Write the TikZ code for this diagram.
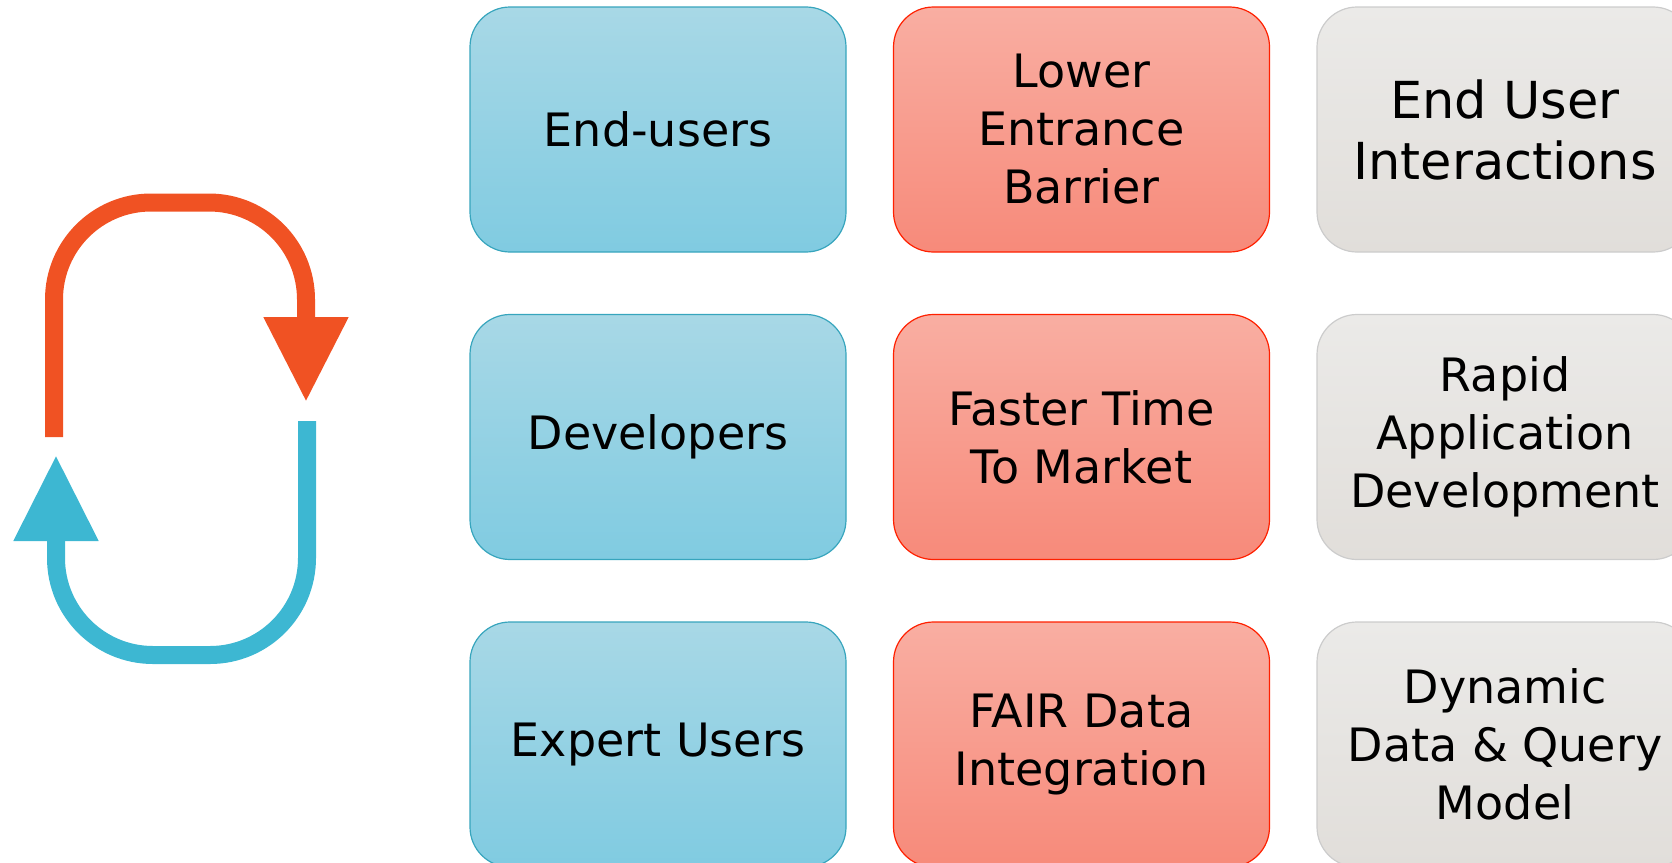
\documentclass[tikz,border=0pt]{standalone}
\usepackage{fontspec}
\setmainfont{DejaVu Sans}
\usepackage{tikz}
\usetikzlibrary{arrows.meta}

\definecolor{cycorange}{HTML}{F05223}
\definecolor{cycblue}{HTML}{3DB7D2}
\definecolor{whotop}{HTML}{A8D8E6}
\definecolor{whobot}{HTML}{80CBE1}
\definecolor{gaintop}{HTML}{F9AEA2}
\definecolor{gainbot}{HTML}{F78A7A}
\definecolor{feattop}{HTML}{EBEAE8}
\definecolor{featbot}{HTML}{E1DEDA}

\begin{document}
\begin{tikzpicture}
[x=1pt,y=1pt,
box/.style={rounded corners=40pt,line width=1.2pt,minimum width=376pt,minimum height=245pt,
  inner sep=0pt,align=center,font=\fontsize{46}{58}\selectfont},
who/.style={box,draw=cycblue!90!black,top color=whotop,bottom color=whobot},
gain/.style={box,draw=red!75!orange,top color=gaintop,bottom color=gainbot},
feat/.style={box,draw=black!20,top color=feattop,bottom color=featbot},
loop/.style={line width=18pt}]
\useasboundingbox (0,0) rectangle (1672,-862);

% who uses it
\node[who] at (658,-129.5) (eu) {End-users};
\node[who] at (658,-437)   (dev) {Developers};
\node[who] at (658,-744.5) (ex) {Expert Users};

% what they get
\node[gain] at (1081.5,-129.5) (leb) {Lower\\Entrance\\Barrier};
\node[gain] at (1081.5,-437)   (ttm) {Faster Time\\To Market};
\node[gain] at (1081.5,-744.5) (fair) {FAIR Data\\Integration};

% how it is done
\node[feat,font=\fontsize{51}{61}\selectfont] at (1505,-129.5) (eui) {End User\\Interactions};
\node[feat] at (1505,-437)   (rad) {Rapid\\Application\\Development};
\node[feat] at (1505,-744.5) (dyn) {Dynamic\\Data \& Query\\Model};

% feedback cycle
\draw[loop,cycorange,-{Triangle[width=80pt,length=85pt]}]
  (54,-437) -- (54,-299.5) arc (180:90:97) -- (209,-202.5) arc (90:0:97) -- (306,-402);
\draw[loop,cycblue,-{Triangle[width=80pt,length=86pt]}]
  (307,-421) -- (307,-558) arc (0:-90:97) -- (153,-655) arc (-90:-180:97) -- (56,-455);
\end{tikzpicture}
\end{document}
